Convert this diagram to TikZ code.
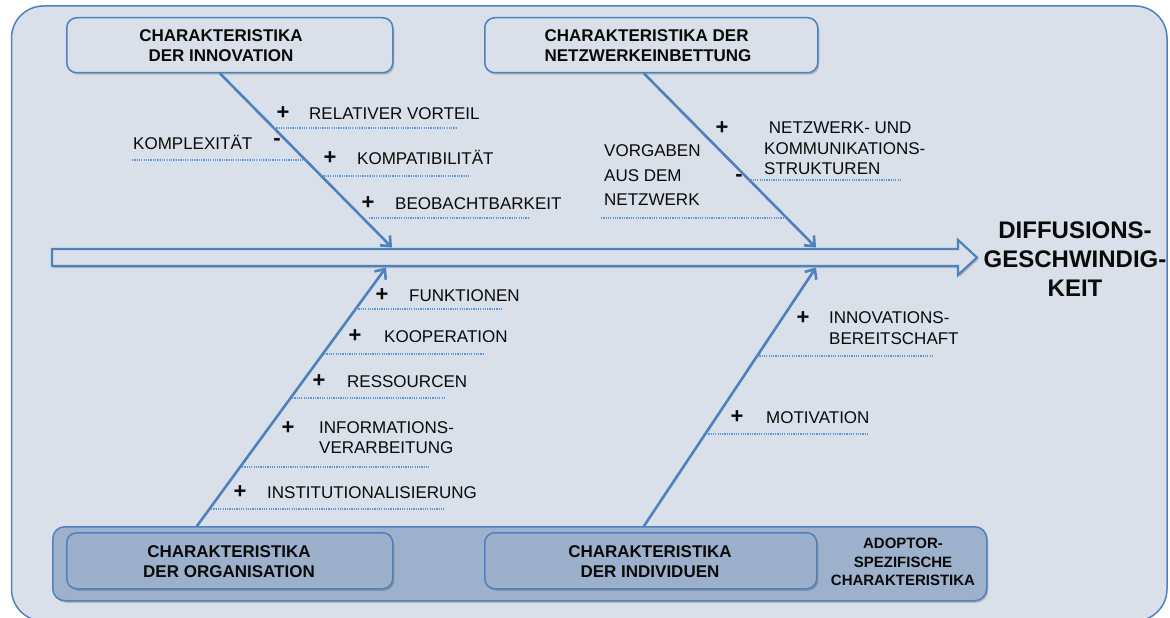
\documentclass[tikz,border=0pt]{standalone}
\usepackage{fontspec}
\setmainfont{Liberation Sans}
\usetikzlibrary{arrows.meta,shadows}

\definecolor{panel}{RGB}{217,224,233}
\definecolor{edge}{RGB}{79,129,189}
\definecolor{band}{RGB}{158,177,204}
\definecolor{boxfill}{RGB}{156,176,204}
\definecolor{rulecol}{RGB}{91,150,213}
\definecolor{ink}{RGB}{10,10,10}

\newcommand\lblfont{\fontsize{17}{20.5}\selectfont}

\tikzset{
  softshadow/.style={drop shadow={shadow xshift=1.5pt,shadow yshift=-2pt,opacity=0.28,fill=black!70}},
  topbox/.style={draw=edge,line width=1.5pt,fill=panel,rounded corners=10pt,softshadow,
    inner sep=0pt,anchor=north west},
  lowbox/.style={draw=edge,line width=1.5pt,fill=boxfill,rounded corners=10pt,softshadow,
    inner sep=0pt,anchor=north west},
  bandbox/.style={draw=edge,line width=1.5pt,fill=band,rounded corners=12pt,softshadow,
    inner sep=0pt,anchor=north west},
  title/.style={font=\bfseries\fontsize{17}{20}\selectfont,align=center,inner sep=0pt,text=ink},
  branch/.style={draw=edge,line width=2.6pt,line cap=round,
    -{Straight Barb[length=8pt,width=14pt]}},
  lbl/.style={font=\lblfont,anchor=west,inner sep=0pt,text height=12.2pt,text depth=0pt,text=ink},
  lblm/.style={font=\lblfont,anchor=west,inner sep=0pt,align=left,text=ink},
  sign/.style={font=\bfseries\fontsize{22}{24}\selectfont,inner sep=0pt,text=ink},
  leader/.style={draw=rulecol,line width=1.2pt,dash pattern=on 1.2pt off 1.1pt},
}

\begin{document}
\begin{tikzpicture}[x=1pt,y=-1pt]
\useasboundingbox (0,0) rectangle (1170,618);

% outer panel
\draw[draw=edge,line width=1.5pt,fill=panel,rounded corners=32pt] (11.5,6) rectangle (1167,621);

% main spine (hollow arrow)
\draw[draw=edge,line width=2.2pt,fill=panel,line join=miter,softshadow]
  (52,249) -- (958,249) -- (958,240) -- (977,257.5) -- (958,275) -- (958,266) -- (52,266) -- cycle;
\coordinate (hitA) at (392,247.5);
\coordinate (hitB) at (816,247.5);
\coordinate (hitC) at (386,267.5);
\coordinate (hitD) at (816,267.5);

% effect label
\node[font=\bfseries\fontsize{24}{29}\selectfont,align=center,inner sep=0pt,text=ink]
  (speed) at (1075,259) {DIFFUSIONS-\\GESCHWINDIG-\\KEIT};

% top category boxes
\node[topbox,minimum width=326pt,minimum height=55pt] (inno) at (66,17) {};
\node[title] (innoT) at (221,46) {CHARAKTERISTIKA\\DER INNOVATION};
\node[topbox,minimum width=333pt,minimum height=55pt] (net) at (484,17) {};
\node[title,align=left] (netT) at (648,46) {CHARAKTERISTIKA DER\\NETZWERKEINBETTUNG};

% bottom band with adopter-specific boxes
\node[bandbox,minimum width=934pt,minimum height=74pt] (adopt) at (52,526) {};
\node[lowbox,minimum width=326pt,minimum height=56pt] (org) at (66,532) {};
\node[title] (orgT) at (229,561.5) {CHARAKTERISTIKA\\DER ORGANISATION};
\node[lowbox,minimum width=332pt,minimum height=56pt] (ind) at (484,532) {};
\node[title] (indT) at (650,562) {CHARAKTERISTIKA\\DER INDIVIDUEN};
\node[font=\bfseries\fontsize{15}{18.5}\selectfont,align=center,inner sep=0pt,text=ink]
  (adoptT) at (903,562) {ADOPTOR-\\SPEZIFISCHE\\CHARAKTERISTIKA};

% branches into the spine
\draw[branch] (inno.south -| 220,0) -- (hitA);
\draw[branch] (net.south -| 644,0) -- (hitB);
\draw[branch] (adopt.north -| 197,0) -- (hitC);
\draw[branch] (adopt.north -| 644,0) -- (hitD);

% --- innovation factors
\node[sign] at (283,113) {+};
\node[lbl] (rv) at (309,113) {RELATIVER VORTEIL};
\draw[leader] (274,128) -- (456,128);

\node[lbl] (kx) at (133,143) {KOMPLEXITÄT};
\node[sign] at (277,142) {-};
\draw[leader] (132,160) -- (305,160);

\node[sign] at (330,158) {+};
\node[lbl] (kp) at (357,158) {KOMPATIBILITÄT};
\draw[leader] (321,176) -- (470,176);

\node[sign] at (368,203) {+};
\node[lbl] (bb) at (395,203) {BEOBACHTBARKEIT};
\draw[leader] (369,218) -- (530,218);

% --- network factors
\node[sign] at (722,128) {+};
\node[lblm] (nk) at (764,148.5) {\hspace*{4.7pt}NETZWERK- UND\\KOMMUNIKATIONS-\\STRUKTUREN};
\node[sign] at (739,178) {-};
\draw[leader] (748,180) -- (902,180);

\node[lblm,font=\fontsize{17}{24.5}\selectfont] (vg) at (604,175.5) {VORGABEN\\AUS DEM\\NETZWERK};
\draw[leader] (601,218) -- (786,218);

% --- organisation factors
\node[sign] at (382,295) {+};
\node[lbl] (fk) at (409,295) {FUNKTIONEN};
\draw[leader] (356,309) -- (503,309);

\node[sign] at (355,336) {+};
\node[lbl] (ko) at (384,336) {KOOPERATION};
\draw[leader] (324,354) -- (485,354);

\node[sign] at (319,381) {+};
\node[lbl] (rs) at (347,381) {RESSOURCEN};
\draw[leader] (292,398) -- (444,398);

\node[sign] at (288,428) {+};
\node[lblm,font=\fontsize{17}{19.5}\selectfont] (iv) at (319,437.5) {INFORMATIONS-\\VERARBEITUNG};
\draw[leader] (242,467) -- (429,467);

\node[sign] at (240,492) {+};
\node[lbl] (in) at (267,492) {INSTITUTIONALISIERUNG};
\draw[leader] (211,509) -- (444,509);

% --- individual factors
\node[sign] at (803,318) {+};
\node[lblm,font=\fontsize{17}{21}\selectfont] (ib) at (829,328.5) {INNOVATIONS-\\BEREITSCHAFT};
\draw[leader] (757,356) -- (933,356);

\node[sign] at (737,417) {+};
\node[lbl] (mo) at (766,417) {MOTIVATION};
\draw[leader] (706,434) -- (868,434);
\end{tikzpicture}
\end{document}
